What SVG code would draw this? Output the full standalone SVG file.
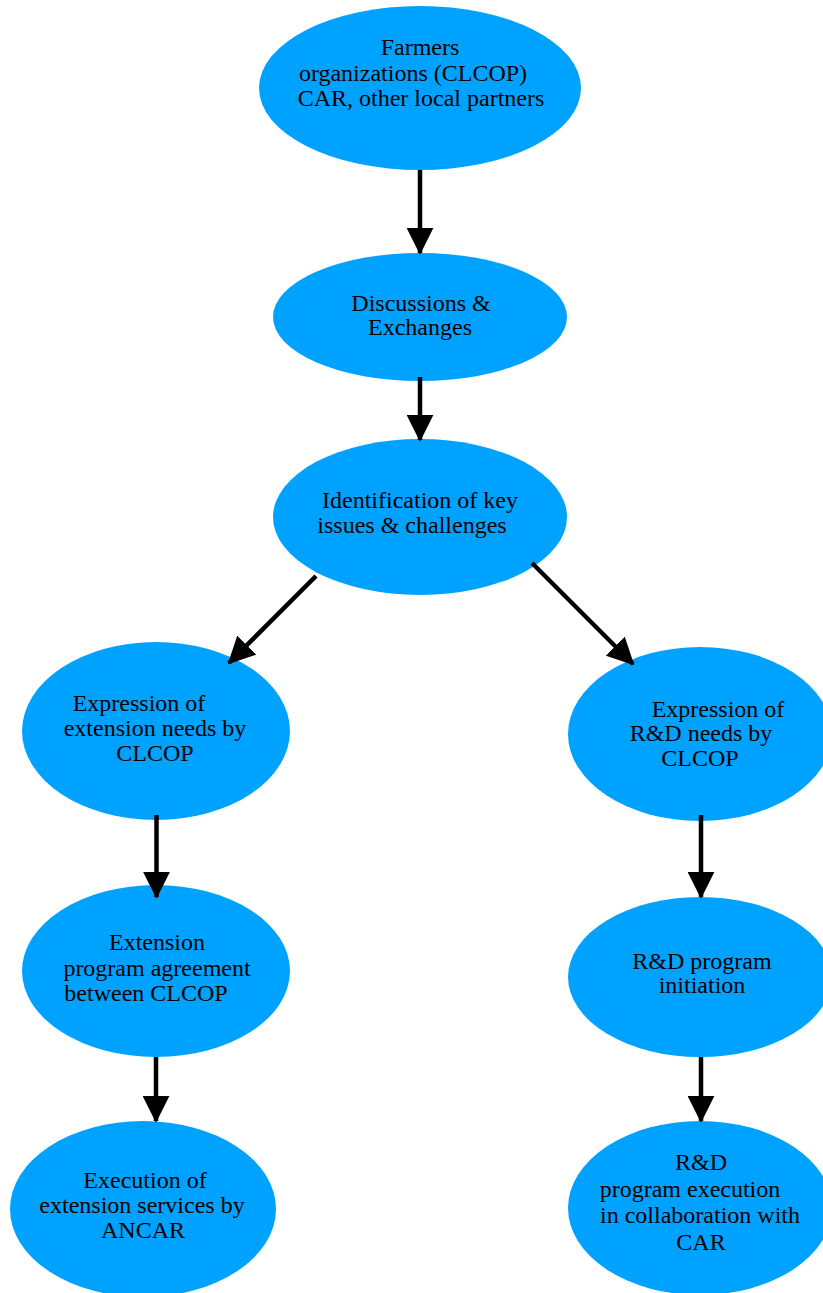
<svg xmlns="http://www.w3.org/2000/svg" width="823" height="1293" viewBox="0 0 823 1293">
<defs>
<style>
.n ellipse{fill:#00A2FF;}
.n text{font-family:"Liberation Serif","Times New Roman",serif;font-size:24px;fill:#000;text-anchor:middle;}
.e line{stroke:#000;stroke-width:4.5;}
</style>
<marker id="ah" markerWidth="6" markerHeight="6" refX="5.6" refY="3" orient="auto" markerUnits="strokeWidth" viewBox="0 0 6 6">
<path d="M0,0 L6,3 L0,6 Z" fill="#000"/>
</marker>
</defs>
<rect width="823" height="1293" fill="#fff"/>
<g id="n1" class="n">
<ellipse cx="420" cy="88" rx="161" ry="82"/>
<text x="420" y="55">Farmers</text>
<text x="413" y="81">organizations (CLCOP)</text>
<text x="421" y="106">CAR, other local partners</text>
</g>
<g id="n2" class="n">
<ellipse cx="420" cy="317" rx="147" ry="64"/>
<text x="421" y="311">Discussions &amp;</text>
<text x="420" y="335">Exchanges</text>
</g>
<g id="n3" class="n">
<ellipse cx="420" cy="517" rx="147" ry="78"/>
<text x="420" y="508">Identification of key</text>
<text x="412" y="533">issues &amp; challenges</text>
</g>
<g id="n4" class="n">
<ellipse cx="156" cy="731" rx="134" ry="89"/>
<text x="139" y="711">Expression of</text>
<text x="155" y="736">extension needs by</text>
<text x="155" y="761">CLCOP</text>
</g>
<g id="n5" class="n">
<ellipse cx="700" cy="734" rx="132" ry="87"/>
<text x="718" y="717">Expression of</text>
<text x="701" y="741">R&amp;D needs by</text>
<text x="700" y="766">CLCOP</text>
</g>
<g id="n6" class="n">
<ellipse cx="156" cy="971" rx="134" ry="86"/>
<text x="157" y="950">Extension</text>
<text x="157" y="976">program agreement</text>
<text x="146" y="1001">between CLCOP</text>
</g>
<g id="n7" class="n">
<ellipse cx="700" cy="977" rx="132" ry="80"/>
<text x="702" y="969">R&amp;D program</text>
<text x="702" y="993">initiation</text>
</g>
<g id="n8" class="n">
<ellipse cx="143" cy="1209" rx="133" ry="88"/>
<text x="145" y="1188">Execution of</text>
<text x="142" y="1213">extension services by</text>
<text x="143" y="1238">ANCAR</text>
</g>
<g id="n9" class="n">
<ellipse cx="700" cy="1208" rx="132" ry="87"/>
<text x="701" y="1170">R&amp;D</text>
<text x="690" y="1197">program execution</text>
<text x="700" y="1223">in collaboration with</text>
<text x="701" y="1250">CAR</text>
</g>
<g id="edges" class="e">
<line x1="420" y1="170" x2="420" y2="253" marker-end="url(#ah)"/>
<line x1="420" y1="377" x2="420" y2="440" marker-end="url(#ah)"/>
<line x1="316" y1="576" x2="229" y2="663" marker-end="url(#ah)"/>
<line x1="532" y1="563" x2="633" y2="664" marker-end="url(#ah)"/>
<line x1="156.5" y1="815" x2="156.5" y2="897" marker-end="url(#ah)"/>
<line x1="156" y1="1057" x2="156" y2="1121" marker-end="url(#ah)"/>
<line x1="701" y1="815" x2="701" y2="897" marker-end="url(#ah)"/>
<line x1="701" y1="1057" x2="701" y2="1121" marker-end="url(#ah)"/>
</g>
</svg>
